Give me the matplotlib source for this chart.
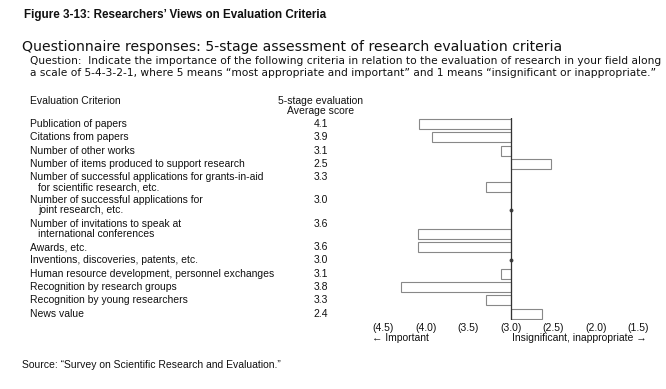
import matplotlib
matplotlib.use("Agg")
import matplotlib.pyplot as plt
import matplotlib.transforms as mtransforms

plt.rcParams['font.family'] = ['Liberation Sans', 'DejaVu Sans']
wide = ['DejaVu Sans']

# data
criteria = [
    "Publication of papers",
    "Citations from papers",
    "Number of other works",
    "Number of items produced to support research",
    "Number of successful applications for grants-in-aid\nfor scientific research, etc.",
    "Number of successful applications for\njoint research, etc.",
    "Number of invitations to speak at\ninternational conferences",
    "Awards, etc.",
    "Inventions, discoveries, patents, etc.",
    "Human resource development, personnel exchanges",
    "Recognition by research groups",
    "Recognition by young researchers",
    "News value",
]
scores = [4.1, 3.9, 3.1, 2.5, 3.3, 3.0, 3.6, 3.6, 3.0, 3.1, 3.8, 3.3, 2.4]
# bar ends as drawn in the figure
bar_ends = [4.08, 3.93, 3.12, 2.53, 3.29, 3.0, 4.09, 4.09, 3.0, 3.12, 4.29, 3.29, 2.64]
tick_vals = [4.5, 4.0, 3.5, 3.0, 2.5, 2.0, 1.5]
midpoint = 3.0

W, H = 666, 389
fig = plt.figure(figsize=(W / 100, H / 100), dpi=100)
fig.patch.set_facecolor("white")

def fx(px):
    return px / W

def fy(py):
    return 1 - py / H

ink = "#111111"

# row layout: one unit per item, 0.75 unit for a wrapped line
UNIT = 13.3
TOP = 124
row_start = []
row_bar = []
pos = 0.0
for c in criteria:
    n = c.count("\n") + 1
    row_start.append(pos)
    row_bar.append(pos + 0.75 * (n - 1))
    pos += 1 + 0.75 * (n - 1)
y_lo = -0.45
y_hi = row_bar[-1] + 0.45

ax_left, ax_right = 383.5, 638.5
ax = fig.add_axes([fx(ax_left), fy(TOP + y_hi * UNIT),
                   fx(ax_right - ax_left), (y_hi - y_lo) * UNIT / H])
ax.set_xlim(4.5, 1.5)
ax.set_ylim(y_hi, y_lo)

widths = [midpoint - v for v in bar_ends]
for y, v, w in zip(row_bar, bar_ends, widths):
    if abs(w) < 1e-9:
        ax.plot(v, y, marker="o", ms=1.8, color="#444444", zorder=3)
    else:
        ax.barh(y, -w, left=midpoint, height=0.75, color="white",
                edgecolor="#888888", linewidth=0.8, zorder=2)
ax.axvline(midpoint, color="#333333", lw=0.9, zorder=3)

ax.set_xticks(tick_vals)
ax.set_xticklabels([f"({t:.1f})" for t in tick_vals], fontsize=7.5, color=ink)
ax.tick_params(axis="x", length=0, pad=2.5)
ax.set_yticks([])
for s in ax.spines.values():
    s.set_visible(False)
ax.patch.set_alpha(0)

# text column positions tied to rows
tr = mtransforms.blended_transform_factory(fig.transFigure, ax.transData)
for c, y0, sc in zip(criteria, row_start, scores):
    lines = c.split("\n")
    for i, ln in enumerate(lines):
        ax.text(fx(30 + (8 if i else 0)), y0 + 0.75 * i, ln, transform=tr,
                fontsize=7.5, color=ink, va="center", ha="left", clip_on=False)
    ax.text(fx(321), y0, f"{sc:.1f}", transform=tr, fontsize=7.5, color=ink,
            va="center", ha="center", clip_on=False)

# headings
fig.text(fx(24), fy(15), "Figure 3-13: Researchers\u2019 Views on Evaluation Criteria",
         fontsize=8.4, fontweight="bold", color=ink, va="center", ha="left")
fig.text(fx(22), fy(47), "Questionnaire responses: 5-stage assessment of research evaluation criteria",
         fontsize=10.1, color=ink, va="center", ha="left", family=wide)
fig.text(fx(30), fy(61.5), "Question:  Indicate the importance of the following criteria in relation to the evaluation of research in your field along",
         fontsize=7.7, color=ink, va="center", ha="left", family=wide)
fig.text(fx(30), fy(72.5), "a scale of 5-4-3-2-1, where 5 means \u201cmost appropriate and important\u201d and 1 means \u201cinsignificant or inappropriate.\u201d",
         fontsize=7.7, color=ink, va="center", ha="left", family=wide)
fig.text(fx(30), fy(101), "Evaluation Criterion", fontsize=7.5, color=ink, va="center", ha="left")
fig.text(fx(321), fy(101), "5-stage evaluation", fontsize=7.5, color=ink, va="center", ha="center")
fig.text(fx(321), fy(111), "Average score", fontsize=7.5, color=ink, va="center", ha="center")

fig.text(fx(372), fy(338), "\u2190 Important", fontsize=7.5, color=ink, va="center", ha="left")
fig.text(fx(647), fy(338), "Insignificant, inappropriate \u2192", fontsize=7.5, color=ink,
         va="center", ha="right")

fig.text(fx(22), fy(365), "Source: \u201cSurvey on Scientific Research and Evaluation.\u201d",
         fontsize=7.5, color=ink, va="center", ha="left")

fig.savefig("out.png", dpi=100, facecolor="white")
